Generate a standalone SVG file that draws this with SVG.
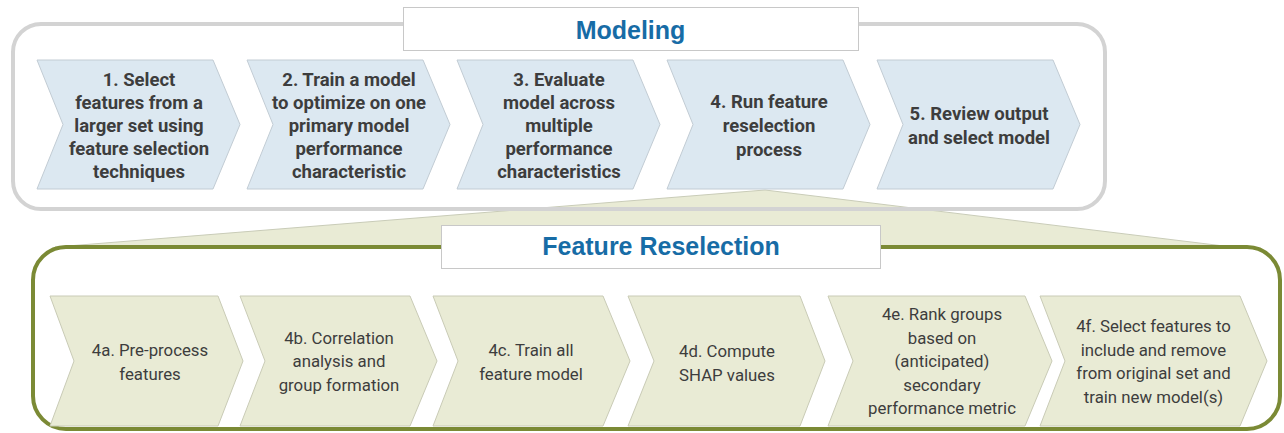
<svg xmlns="http://www.w3.org/2000/svg" width="1284" height="433" viewBox="0 0 1284 433">
<style>
.up{fill:#dce8f1;stroke:#c2ccd4;stroke-width:1}
.lo{fill:#e9ebd5;stroke:#c9cbb6;stroke-width:1}
.tu{font-family:Roboto,"Liberation Sans",sans-serif;font-weight:700;font-size:18.5px;fill:#3d3d3d;text-anchor:middle}
.tl{font-family:Roboto,"Liberation Sans",sans-serif;font-weight:400;font-size:16.8px;fill:#3d3d3d;text-anchor:middle}
.title{font-family:"Liberation Sans",Arial,sans-serif;font-weight:700;font-size:25px;fill:#176ca6;text-anchor:middle}
.tbox{fill:#ffffff;stroke:#c8c8c8;stroke-width:1}
</style>
<rect width="1284" height="433" fill="#ffffff"/>
<g id="connectors">
<polygon points="765,190 1232,247 55,247" fill="#e9ebd5" stroke="#c9ccb8" stroke-width="1"/>
</g>
<g id="modeling-frame">
<rect x="13" y="24" width="1092" height="185" rx="28" ry="28" fill="none" stroke="#d3d3d3" stroke-width="4"/>
</g>
<g id="reselection-frame">
<rect x="33" y="247" width="1247" height="182" rx="33" ry="33" fill="#ffffff" stroke="#7b8a35" stroke-width="4"/>
</g>
<g id="modeling-title">
<rect class="tbox" x="403.5" y="7.5" width="455" height="43"/>
<text class="title" x="630.5" y="39">Modeling</text>
</g>
<g id="reselection-title">
<rect class="tbox" x="441.5" y="225.5" width="439" height="43"/>
<text class="title" x="661" y="255">Feature Reselection</text>
</g>
<g id="step1">
<polygon class="up" points="37,60 213,60 240,124.5 213,189 37,189 63,124.5"/>
<text class="tu" x="139" y="86">1. Select</text>
<text class="tu" x="139" y="109">features from a</text>
<text class="tu" x="139" y="132">larger set using</text>
<text class="tu" x="139" y="155">feature selection</text>
<text class="tu" x="139" y="178">techniques</text>
</g>
<g id="step2">
<polygon class="up" points="247,60 423,60 450,124.5 423,189 247,189 273,124.5"/>
<text class="tu" x="349" y="86">2. Train a model</text>
<text class="tu" x="349" y="109">to optimize on one</text>
<text class="tu" x="349" y="132">primary model</text>
<text class="tu" x="349" y="155">performance</text>
<text class="tu" x="349" y="178">characteristic</text>
</g>
<g id="step3">
<polygon class="up" points="457,60 633,60 660,124.5 633,189 457,189 483,124.5"/>
<text class="tu" x="559" y="86">3. Evaluate</text>
<text class="tu" x="559" y="109">model across</text>
<text class="tu" x="559" y="132">multiple</text>
<text class="tu" x="559" y="155">performance</text>
<text class="tu" x="559" y="178">characteristics</text>
</g>
<g id="step4">
<polygon class="up" points="667,60 843,60 870,124.5 843,189 667,189 693,124.5"/>
<text class="tu" x="769" y="108">4. Run feature</text>
<text class="tu" x="769" y="132">reselection</text>
<text class="tu" x="769" y="156">process</text>
</g>
<g id="step5">
<polygon class="up" points="877,60 1053,60 1080,124.5 1053,189 877,189 903,124.5"/>
<text class="tu" x="979" y="120">5. Review output</text>
<text class="tu" x="979" y="144">and select model</text>
</g>
<g id="step4a">
<polygon class="lo" points="50,296 218,296 243,361 218,426 50,426 74,361"/>
<text class="tl" x="150" y="356">4a. Pre-process</text>
<text class="tl" x="150" y="380">features</text>
</g>
<g id="step4b">
<polygon class="lo" points="240,296 410,296 437,361 410,426 240,426 265,361"/>
<text class="tl" x="339" y="343.5">4b. Correlation</text>
<text class="tl" x="339" y="367">analysis and</text>
<text class="tl" x="339" y="390.5">group formation</text>
</g>
<g id="step4c">
<polygon class="lo" points="433,296 603,296 630,361 603,426 433,426 458,361"/>
<text class="tl" x="531" y="356">4c. Train all</text>
<text class="tl" x="531" y="380">feature model</text>
</g>
<g id="step4d">
<polygon class="lo" points="628,296 800,296 825,361 800,426 628,426 654,361"/>
<text class="tl" x="727" y="357">4d. Compute</text>
<text class="tl" x="727" y="381">SHAP values</text>
</g>
<g id="step4e">
<polygon class="lo" points="828,296 1025,296 1052,361 1025,426 828,426 853,361"/>
<text class="tl" x="942" y="320">4e. Rank groups</text>
<text class="tl" x="942" y="343.5">based on</text>
<text class="tl" x="942" y="367">(anticipated)</text>
<text class="tl" x="942" y="390.5">secondary</text>
<text class="tl" x="942" y="414">performance metric</text>
</g>
<g id="step4f">
<polygon class="lo" points="1040,296 1240,296 1267,361 1240,426 1040,426 1065,361"/>
<text class="tl" x="1153.5" y="332">4f. Select features to</text>
<text class="tl" x="1153.5" y="355.5">include and remove</text>
<text class="tl" x="1153.5" y="379">from original set and</text>
<text class="tl" x="1153.5" y="402.5">train new model(s)</text>
</g>
</svg>
